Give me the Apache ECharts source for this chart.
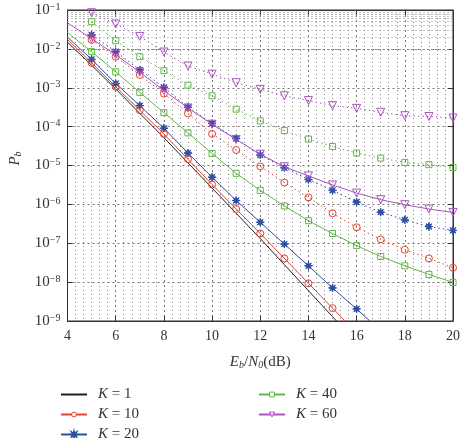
<!DOCTYPE html>
<html><head><meta charset="utf-8">
<script src="https://cdn.jsdelivr.net/npm/echarts@6/dist/echarts.min.js"></script>
<style>html,body{margin:0;padding:0;background:#fff}#c{width:463px;height:438px}</style>
</head><body><div id="c"></div>
<script>
// ---- data ----
const xSolid = [4,5,6,7,8,9,10,11,12,13,14,15,16,17,18,19,20];
const xDotted = [5,6,7,8,9,10,11,12,13,14,15,16,17,18,19,20];
const k1 = [1.48e-2,3.8e-3,9.3e-4,2.19e-4,5.2e-5,1.17e-5,2.63e-6,5.9e-7,1.32e-7,2.82e-8,6.0e-9,1.29e-9,2.75e-10];
const k10 = [1.74e-2,4.37e-3,1.07e-3,2.63e-4,6.46e-5,1.45e-5,3.24e-6,7.59e-7,1.78e-7,4.07e-8,9.33e-9,2.14e-9,4.9e-10];
const k20 = [2.0e-2,5.37e-3,1.29e-3,3.47e-4,9.1e-5,2.09e-5,5.0e-6,1.26e-6,3.47e-7,9.5e-8,2.63e-8,7.1e-9,2.04e-9,5.6e-10];
const k40 = [2.63e-2,8.5e-3,2.57e-3,7.6e-4,2.29e-4,6.9e-5,2.04e-5,6.3e-6,2.29e-6,9.1e-7,3.8e-7,1.78e-7,8.7e-8,4.57e-8,2.63e-8,1.58e-8,9.8e-9];
const k60 = [4.68e-2,1.82e-2,7.1e-3,2.51e-3,8.5e-4,3.02e-4,1.15e-4,4.68e-5,1.95e-5,9.3e-6,5.4e-6,3.16e-6,1.95e-6,1.32e-6,9.8e-7,7.6e-7,6.2e-7];
const k10d = [1.7e-2,6.3e-3,2.14e-3,7.1e-4,2.19e-4,6.5e-5,2.51e-5,9.5e-6,3.63e-6,1.51e-6,5.9e-7,2.57e-7,1.26e-7,6.8e-8,4.07e-8,2.34e-8];
const k20d = [2.29e-2,8.5e-3,2.88e-3,1.02e-3,3.16e-4,1.2e-4,4.9e-5,1.86e-5,8.7e-6,4.37e-6,2.29e-6,1.15e-6,6.3e-7,4.0e-7,2.69e-7,2.14e-7];
const k40d = [5.0e-2,1.62e-2,6.3e-3,2.75e-3,1.17e-3,6.2e-4,2.82e-4,1.41e-4,7.9e-5,4.8e-5,3.09e-5,2.09e-5,1.55e-5,1.2e-5,1.05e-5,8.9e-6];
const k60d = [8.5e-2,4.37e-2,2.09e-2,8.3e-3,3.63e-3,2.24e-3,1.35e-3,9.1e-4,6.2e-4,4.68e-4,3.47e-4,2.95e-4,2.34e-4,1.91e-4,1.82e-4,1.66e-4];
const xTicks = [4,6,8,10,12,14,16,18,20];
const yDecades = [-9,-8,-7,-6,-5,-4,-3,-2,-1];
const minorMults = [2,3,4,5,6,7,8,9];

// ---- styling ----
const FONT = '"Liberation Serif","DejaVu Serif",serif';
const colors = {k1:'#231f20', k10:'#e8402a', k20:'#2c4ea3', k40:'#62b846', k60:'#ad52c0'};
const STAR = 'path://M20,10L13.7,11.53L17.07,17.07L11.53,13.7L10,20L8.47,13.7L2.93,17.07L6.3,11.53L0,10L6.3,8.47L2.93,2.93L8.47,6.3L10,0L11.53,6.3L17.07,2.93L13.7,8.47Z';
const CLEAR = 'rgba(0,0,0,0)';

function pairs(xs, ys){
  return ys.map((v,i)=> xs[i]===4 ? {value:[xs[i], v], symbol:'none'} : [xs[i], v]);
}

function mk(name, xs, ys, color, shape, size, filled, dotted, rotate){
  return {
    type:'line', name:name, data:pairs(xs, ys),
    symbol: shape || 'circle',
    showSymbol: !!shape,
    symbolSize:size, symbolRotate: rotate||0,
    lineStyle:{color:color, width:1, type: dotted ? [1.5,3] : 'solid'},
    itemStyle: shape ? {color: filled ? color : CLEAR, borderColor:color, borderWidth:1}
                     : {color: CLEAR, borderColor: CLEAR, borderWidth:0},
    emphasis:{disabled:true}, animation:false, z: dotted ? 3 : 4
  };
}

const minorLines = [];
yDecades.slice(0,-1).forEach(e=>{ minorMults.forEach(m=>{ minorLines.push({yAxis: m*Math.pow(10,e)}); }); });

const series = [
  mk('K = 60', xSolid, k60, colors.k60, 'triangle', 8, false, false, 180),
  mk('K = 40', xSolid, k40, colors.k40, 'rect', 6, false, false),
  mk('K = 20', xSolid, k20, colors.k20, STAR, 8, true, false),
  mk('K = 10', xSolid, k10, colors.k10, 'circle', 7, false, false),
  mk('K = 1', xSolid, k1, colors.k1, null, 0, false, false),
  mk('K = 60', xDotted, k60d, colors.k60, 'triangle', 8, false, true, 180),
  mk('K = 40', xDotted, k40d, colors.k40, 'rect', 6, false, true),
  mk('K = 20', xDotted, k20d, colors.k20, STAR, 8, true, true),
  mk('K = 10', xDotted, k10d, colors.k10, 'circle', 7, false, true),
  {type:'line', data:[], silent:true, markLine:{silent:true, symbol:'none', label:{show:false},
    lineStyle:{color:'#8a8a8a', width:1, type:[1,3]}, data:minorLines, animation:false}}
];

const sup = {
  b:{fontFamily:FONT, fontSize:15, color:'#333', lineHeight:16},
  s:{fontFamily:FONT, fontSize:10, color:'#333', verticalAlign:'top', lineHeight:6}
};

function legendAt(item, left, top){
  return {
    data:[item], left:left, top:top, padding:0, orient:'vertical',
    itemWidth:26, itemHeight:6, itemGap:0,
    textStyle:{fontFamily:FONT, fontSize:15, color:'#333', padding:[0,0,0,6],
      rich:{i:{fontFamily:FONT, fontSize:15, fontStyle:'italic', color:'#333'}}},
    formatter: n => '{i|K}' + n.slice(1)
  };
}
function hollow(name, c){ return {name:name, itemStyle:{color:'#fff', borderColor:c, borderWidth:1}}; }

const option = {
  backgroundColor:'#fff',
  animation:false,
  grid:{left:61, top:10, right:8, bottom:117, show:true, borderColor:'#333', borderWidth:1, backgroundColor:'transparent'},
  legend:[
    legendAt({name:'K = 1', itemStyle:{color:CLEAR, borderColor:CLEAR, borderWidth:0}}, 60, 387),
    legendAt(hollow('K = 10', colors.k10), 60, 407),
    legendAt('K = 20', 60, 427),
    legendAt(hollow('K = 40', colors.k40), 258, 387),
    legendAt(hollow('K = 60', colors.k60), 258, 407)
  ],
  xAxis:[{
    type:'value', min:xTicks[0], max:xTicks[xTicks.length-1], interval:2,
    name:'{i|E}{sub|b}{n|/}{i|N}{sub|0}{n|(dB)}', nameLocation:'middle', nameGap:33,
    nameTextStyle:{rich:{
      i:{fontFamily:FONT, fontSize:15, fontStyle:'italic', color:'#333'},
      n:{fontFamily:FONT, fontSize:15, color:'#333'},
      sub:{fontFamily:FONT, fontSize:10, fontStyle:'italic', color:'#333', verticalAlign:'bottom', padding:[6,0,0,0]}
    }},
    axisLine:{lineStyle:{color:'#333'}},
    axisTick:{inside:true, length:5, lineStyle:{color:'#333'}},
    axisLabel:{fontFamily:FONT, fontSize:14, color:'#333', margin:8},
    splitLine:{show:true, lineStyle:{color:'#777', width:1, type:[2,3]}},
    minorTick:{show:false, splitNumber:6},
    minorSplitLine:{show:true, lineStyle:{color:'#8a8a8a', width:1, type:[1,3]}}
  },{
    type:'value', position:'top', min:xTicks[0], max:xTicks[xTicks.length-1], interval:2,
    axisLine:{show:true, lineStyle:{color:'#333'}}, axisTick:{inside:true, length:5, lineStyle:{color:'#333'}},
    axisLabel:{show:false}, splitLine:{show:false}
  }],
  yAxis:[{
    type:'log', logBase:10, min:1e-9, max:1e-1, interval:1,
    name:'{i|P}{sub|b}', nameLocation:'middle', nameGap:44, nameRotate:90,
    nameTextStyle:{padding:[0,0,0,14], rich:{
      i:{fontFamily:FONT, fontSize:15, fontStyle:'italic', color:'#333'},
      sub:{fontFamily:FONT, fontSize:10, fontStyle:'italic', color:'#333', verticalAlign:'bottom', padding:[6,0,0,0]}
    }},
    axisLine:{show:true, lineStyle:{color:'#333'}},
    axisTick:{inside:true, length:5, lineStyle:{color:'#333'}},
    axisLabel:{margin:7, formatter: v => { const e = Math.round(Math.log10(v)); return '{b|10}{s|\u2212' + Math.abs(e) + '}'; }, rich:sup},
    splitLine:{show:true, lineStyle:{color:'#777', width:1, type:[2,3]}}
  },{
    type:'log', logBase:10, min:1e-9, max:1e-1, interval:1, position:'right',
    axisLine:{show:true, lineStyle:{color:'#333'}}, axisTick:{inside:true, length:5, lineStyle:{color:'#333'}},
    axisLabel:{show:false}, splitLine:{show:false}
  }],
  series: series
};

const chart = echarts.init(document.getElementById('c'), null, {renderer:'canvas'});
chart.setOption(option);
</script></body></html>
